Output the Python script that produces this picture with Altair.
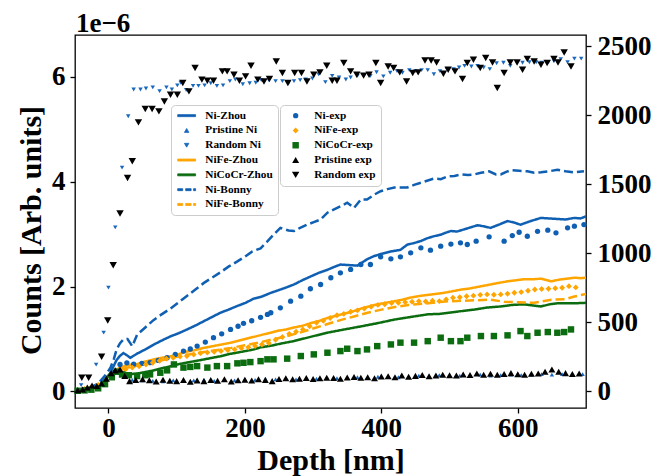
import altair as alt
import pandas as pd

FONT = "Liberation Serif"
BLUE = "#0f5fb2"
BLUE_TRI = "#1a68bd"
ORANGE = "#ffa500"
GREEN = "#0c6c10"
BLACK = "#000000"

# ---------------- simulation curves (left axis, units of 1e-6) ----------------
ni_zhou_x = [-47, -35, -25, -15, -5, 2, 7.5, 12, 17, 22,
             27, 32, 42, 54, 66, 78, 91, 103, 115, 128,
             140, 152, 164, 176, 189, 201, 213, 225, 238, 247,
             260, 272, 284, 296, 308, 321, 330, 340, 352, 365,
             379, 389, 399, 414, 428, 438, 448, 458, 467, 477,
             487, 497, 502, 511, 521, 531, 541, 550, 560, 572,
             585, 595, 604, 619, 634, 646, 658, 670, 683, 692, 700]
ni_zhou_y = [0.0, 0.02, 0.05, 0.1, 0.22, 0.33, 0.48, 0.6, 0.68, 0.73,
             0.69, 0.64, 0.72, 0.80, 0.89, 0.97, 1.05, 1.11, 1.18, 1.26,
             1.34, 1.42, 1.50, 1.56, 1.63, 1.69, 1.77, 1.81, 1.88, 1.92,
             1.98, 2.04, 2.12, 2.19, 2.26, 2.32, 2.37, 2.42, 2.41, 2.40,
             2.52, 2.58, 2.62, 2.67, 2.70, 2.80, 2.83, 2.87, 2.92, 2.96,
             2.99, 3.04, 3.06, 3.05, 3.09, 3.13, 3.17, 3.15, 3.12, 3.18,
             3.25, 3.22, 3.18, 3.25, 3.31, 3.30, 3.29, 3.28, 3.31, 3.30, 3.34]

ni_bonny_x = [-47, -35, -25, -15, -5, 3, 8, 12, 17, 22,
              28, 35, 42, 54, 66, 78, 91, 103, 115, 128,
              140, 152, 164, 176, 189, 201, 211, 223, 232, 242,
              252, 264, 272, 281, 291, 301, 311, 321, 330, 340,
              350, 360, 370, 379, 389, 399, 409, 419, 428, 438,
              448, 458, 467, 477, 487, 497, 507, 517, 527, 536,
              546, 558, 568, 575, 583, 590, 602, 614, 624, 634,
              646, 658, 670, 683, 697]
ni_bonny_y = [0.0, 0.03, 0.08, 0.15, 0.3, 0.45, 0.62, 0.80, 0.92, 0.99,
              1.00, 0.86, 1.08, 1.22, 1.36, 1.47, 1.58, 1.70, 1.82, 1.95,
              2.07, 2.17, 2.27, 2.38, 2.48, 2.58, 2.67, 2.73, 2.85, 2.99,
              3.12, 3.07, 3.06, 3.12, 3.18, 3.23, 3.28, 3.41, 3.47, 3.53,
              3.60, 3.50, 3.66, 3.66, 3.75, 3.82, 3.86, 3.89, 3.89, 3.89,
              3.94, 3.98, 4.02, 4.06, 4.05, 4.10, 4.11, 4.14, 4.13, 4.14,
              4.17, 4.20, 4.14, 4.14, 4.19, 4.22, 4.21, 4.20, 4.17, 4.18,
              4.20, 4.23, 4.20, 4.18, 4.20]

nife_zhou_x = [-47, -35, -25, -15, -7, 0, 7.5, 17, 25, 32,
               42, 54, 66, 78, 91, 103, 115, 128, 140, 152,
               164, 176, 189, 201, 213, 225, 238, 250, 260, 272,
               284, 296, 308, 321, 333, 345, 357, 370, 382, 394,
               406, 419, 431, 443, 456, 468, 480, 492, 504, 516,
               528, 536, 548, 560, 572, 585, 597, 609, 622, 634,
               649, 660, 672, 683, 692, 700]
nife_zhou_y = [0.0, 0.02, 0.05, 0.1, 0.19, 0.3, 0.38, 0.45, 0.49, 0.51,
               0.52, 0.57, 0.61, 0.64, 0.67, 0.71, 0.76, 0.79, 0.83, 0.86,
               0.89, 0.92, 0.96, 1.00, 1.04, 1.08, 1.12, 1.16, 1.18, 1.22,
               1.25, 1.30, 1.34, 1.40, 1.44, 1.48, 1.52, 1.58, 1.62, 1.66,
               1.69, 1.72, 1.75, 1.79, 1.82, 1.84, 1.86, 1.88, 1.91, 1.94,
               1.96, 1.98, 2.01, 2.04, 2.07, 2.10, 2.12, 2.14, 2.14, 2.15,
               2.10, 2.13, 2.15, 2.17, 2.16, 2.17]

nife_bonny_x = [-47, -30, -15, 0, 15, 30, 45, 60, 80, 100,
                120, 140, 160, 180, 200, 220, 240, 260, 280, 300,
                320, 340, 360, 380, 400, 420, 440, 460, 480, 500,
                520, 540, 560, 580, 600, 624, 649, 670, 683, 700]
nife_bonny_y = [0.0, 0.03, 0.08, 0.22, 0.40, 0.46, 0.50, 0.55, 0.60, 0.66,
                0.71, 0.75, 0.79, 0.83, 0.88, 0.93, 0.99, 1.05, 1.12, 1.20,
                1.28, 1.36, 1.43, 1.50, 1.56, 1.61, 1.65, 1.67, 1.70, 1.72,
                1.73, 1.74, 1.75, 1.71, 1.70, 1.69, 1.75, 1.76, 1.81, 1.86]

nicocr_zhou_x = [-47, -30, -15, -5, 3, 12, 22, 32, 42, 54,
                 66, 78, 91, 103, 115, 128, 140, 152, 164, 176,
                 189, 201, 213, 223, 238, 252, 272, 296, 321, 345,
                 370, 394, 419, 443, 468, 487, 516, 536, 555, 575,
                 592, 609, 622, 634, 646, 658, 683, 700]
nicocr_zhou_y = [0.0, 0.03, 0.1, 0.22, 0.35, 0.41, 0.36, 0.33, 0.34, 0.37,
                 0.40, 0.44, 0.48, 0.52, 0.55, 0.58, 0.61, 0.64, 0.67, 0.71,
                 0.74, 0.77, 0.80, 0.84, 0.87, 0.91, 0.96, 1.04, 1.12, 1.18,
                 1.24, 1.30, 1.37, 1.42, 1.47, 1.48, 1.53, 1.56, 1.60, 1.62,
                 1.65, 1.66, 1.64, 1.62, 1.66, 1.68, 1.68, 1.69]

pristine_ni_x = [-45, -35, -25, -15, -5, 5, 15, 25, 35,
                 50, 65, 80, 95, 110, 125, 140, 155, 170, 185,
                 200, 215, 230, 245, 260, 275, 290, 305, 320, 335,
                 350, 365, 380, 395, 410, 425, 440, 455, 470, 485,
                 500, 515, 530, 545, 560, 575, 590, 605, 620, 635,
                 650, 665, 680, 695]
pristine_ni_y = [0.0, 0.01, 0.03, 0.07, 0.15, 0.30, 0.36, 0.28, 0.22,
                 0.21, 0.20, 0.19, 0.21, 0.20, 0.21, 0.22, 0.20, 0.22, 0.21,
                 0.23, 0.22, 0.24, 0.23, 0.24, 0.23, 0.25, 0.24, 0.26, 0.25,
                 0.26, 0.27, 0.26, 0.28, 0.29, 0.27, 0.28, 0.30, 0.29, 0.31,
                 0.30, 0.30, 0.31, 0.32, 0.30, 0.31, 0.32, 0.31, 0.32, 0.33,
                 0.32, 0.33, 0.32, 0.33]

random_ni = [(-40, 0.12), (-29, 0.25), (-18, 0.51), (-7, 1.12), (0, 1.98), (10, 3.13),
             (20, 4.27), (29, 5.25), (37, 5.76), (47, 5.76), (55, 5.78), (65, 5.80),
             (75, 5.73), (85, 5.80), (93, 5.76), (101, 5.84), (106, 5.89), (114, 5.75),
             (124, 5.83), (132, 5.83), (141, 5.84), (150, 5.88), (159, 5.83), (168, 5.84),
             (178, 5.92), (186, 5.95), (197, 5.86), (207, 5.88), (216, 5.89), (224, 5.94),
             (235, 5.94), (245, 5.92), (255, 5.92), (264, 5.88), (272, 5.92), (281, 5.94),
             (289, 5.95), (299, 5.97), (308, 6.05), (318, 5.90), (328, 6.02), (338, 5.99),
             (348, 5.95), (355, 5.99), (365, 6.02), (374, 6.02), (384, 6.02), (393, 6.09),
             (403, 6.01), (413, 6.08), (423, 6.11), (431, 6.08), (441, 6.13), (450, 6.11),
             (459, 6.13), (468, 6.13), (477, 6.05), (486, 6.11), (496, 6.15), (506, 6.15),
             (514, 6.18), (522, 6.21), (532, 6.20), (541, 6.21), (550, 6.18), (559, 6.15),
             (569, 6.26), (579, 6.27), (589, 6.21), (599, 6.27), (607, 6.27), (617, 6.28),
             (627, 6.28), (635, 6.27), (645, 6.28), (653, 6.30), (663, 6.34), (673, 6.28),
             (683, 6.35), (693, 6.35)]

# ---------------- experimental data (right axis, counts) ----------------
ni_exp_x = [-45, -35, -25, -15, -5, 5, 17, 27, 37, 49,
            61, 73, 86, 98, 110, 120, 130, 142, 154, 166,
            179, 190, 198, 210, 223, 233, 238, 252, 267, 282,
            296, 311, 326, 340, 355, 370, 384, 399, 414, 428,
            443, 458, 472, 487, 502, 516, 526, 539, 558, 580,
            592, 602, 614, 629, 644, 656, 673, 683, 697]
ni_exp_c = [5, 10, 20, 35, 70, 130, 193, 205, 195, 200,
            206, 222, 242, 265, 290, 305, 326, 355, 387, 415,
            447, 470, 491, 510, 535, 556, 568, 604, 652, 688,
            742, 773, 822, 858, 882, 918, 918, 974, 959, 974,
            1003, 1039, 1022, 1051, 1066, 1075, 1063, 1087, 1119, 1087,
            1128, 1152, 1123, 1159, 1167, 1148, 1184, 1196, 1208]

nife_exp_x = list(range(-45, 690, 10))
nife_exp_c = [5, 15, 30, 45, 61, 121, 150, 157, 170, 180,
              193, 205, 220, 235, 242, 250, 254, 265, 275, 280,
              285, 290, 296, 302, 310, 318, 326, 338, 348, 372,
              392, 415, 430, 447, 470, 495, 510, 530, 550, 560,
              575, 585, 598, 612, 625, 630, 638, 641, 645, 648,
              652, 650, 655, 652, 665, 677, 680, 688, 692, 698,
              701, 699, 701, 706, 713, 718, 728, 737, 740, 742,
              746, 749, 761, 752]

nicocr_exp_x = [-45, -35, -25, -15, -5, 5, 12, 20, 30, 42,
                54, 61, 76, 86, 96, 110, 120, 130, 145, 159,
                174, 189, 198, 208, 223, 233, 242, 262, 282, 301,
                321, 340, 350, 365, 379, 394, 414, 428, 448, 468,
                487, 502, 516, 526, 546, 565, 585, 604, 614, 629,
                644, 658, 668, 678]
nicocr_exp_c = [2, 5, 10, 20, 50, 100, 140, 120, 115, 109,
                115, 121, 133, 150, 193, 170, 175, 181, 170, 181,
                181, 201, 205, 210, 217, 230, 230, 235, 254, 266,
                278, 290, 307, 290, 302, 326, 338, 351, 351, 362,
                387, 362, 362, 387, 399, 399, 404, 435, 399, 423,
                428, 423, 428, 447]

pristine_exp_x = [-45, -38, -31, -24, -17, -10, -3, 4, 10, 17, 24, 31] + list(range(40, 700, 10))
pristine_exp_c = [5, 12, 25, 40, 36, 55, 90, 130, 150, 157, 110, 72,
                  80, 85, 78, 70, 82, 75, 72, 80, 68, 76,
                  72, 80, 74, 85, 70, 78, 82, 77, 86, 80,
                  72, 88, 92, 86, 90, 95, 88, 93, 97, 95,
                  90, 98, 102, 96, 100, 92, 105, 108, 100, 112,
                  104, 110, 116, 108, 112, 118, 114, 112, 120, 116,
                  128, 118, 126, 118, 124, 130, 122, 118, 126, 128,
                  140, 157, 140, 130, 124, 128]

random_exp = [(-39, 97), (-29, 97), (-10, 249), (-1, 512), (7, 913), (17, 1288), (28, 1546),
              (35, 1667), (44, 1949), (54, 2046), (64, 2046), (74, 2029), (82, 2101), (91, 2150),
              (101, 2150), (109, 2235), (118, 2174), (127, 2343), (137, 2259), (145, 2251),
              (154, 2251), (167, 2319), (174, 2319), (184, 2295), (192, 2251), (201, 2283),
              (209, 2360), (219, 2259), (228, 2246), (236, 2264), (246, 2391), (255, 2307),
              (263, 2235), (273, 2307), (283, 2307), (291, 2246), (301, 2295), (310, 2312),
              (320, 2360), (328, 2251), (335, 2251), (345, 2380), (355, 2319), (364, 2295),
              (374, 2288), (382, 2295), (392, 2380), (399, 2235), (410, 2355), (418, 2343),
              (427, 2312), (437, 2246), (446, 2307), (454, 2312), (464, 2398), (473, 2398),
              (481, 2384), (491, 2302), (498, 2331), (508, 2319), (519, 2264), (526, 2380),
              (535, 2403), (545, 2343), (553, 2416), (563, 2384), (570, 2198), (580, 2307),
              (589, 2384), (599, 2384), (607, 2331), (614, 2409), (624, 2391), (634, 2367),
              (643, 2380), (653, 2409), (659, 2384), (668, 2456), (678, 2355)]


def frame(xs, vs, name, col):
    assert len(xs) == len(vs), name
    return pd.DataFrame({"x": xs, col: vs, "s": name})


line_df = pd.concat([
    frame(ni_zhou_x, ni_zhou_y, "Ni-Zhou", "y"),
    frame(nife_zhou_x, nife_zhou_y, "NiFe-Zhou", "y"),
    frame(nicocr_zhou_x, nicocr_zhou_y, "NiCoCr-Zhou", "y"),
    frame(ni_bonny_x, ni_bonny_y, "Ni-Bonny", "y"),
    frame(nife_bonny_x, nife_bonny_y, "NiFe-Bonny", "y"),
], ignore_index=True)

sim_pt_df = pd.concat([
    frame(pristine_ni_x, pristine_ni_y, "Pristine Ni", "y"),
    frame([p[0] for p in random_ni], [p[1] for p in random_ni], "Random Ni", "y"),
], ignore_index=True)

exp_df = pd.concat([
    frame(ni_exp_x, ni_exp_c, "Ni-exp", "c"),
    frame(nife_exp_x, nife_exp_c, "NiFe-exp", "c"),
    frame(nicocr_exp_x, nicocr_exp_c, "NiCoCr-exp", "c"),
    frame(pristine_exp_x, pristine_exp_c, "Pristine exp", "c"),
    frame([p[0] for p in random_exp], [p[1] for p in random_exp], "Random exp", "c"),
], ignore_index=True)

SIM_NAMES = ["Ni-Zhou", "Pristine Ni", "Random Ni", "NiFe-Zhou", "NiCoCr-Zhou", "Ni-Bonny", "NiFe-Bonny"]
SIM_COLORS = [BLUE, BLUE_TRI, BLUE_TRI, ORANGE, GREEN, BLUE, ORANGE]
SOLID = "M-4,-0.45H4V0.45H-4Z"
DASHED = "M-4,-0.45H-1.77V0.45H-4Z M-0.44,-0.45H2V0.45H-0.44Z M3.1,-0.45H4V0.45H3.1Z"
SIM_SHAPES = [SOLID, "triangle-up", "triangle-down", SOLID, SOLID, DASHED, DASHED]
SIM_DASH = [[1, 0], [1, 0], [1, 0], [1, 0], [1, 0], [9, 4], [9, 4]]
SIM_SIZES = [20, 20, 62, 20, 20, 20, 20]

EXP_NAMES = ["Ni-exp", "NiFe-exp", "NiCoCr-exp", "Pristine exp", "Random exp"]
EXP_COLORS = [BLUE, ORANGE, GREEN, BLACK, BLACK]
EXP_SHAPES = ["circle", "diamond", "square", "triangle-up", "triangle-down"]
EXP_SIZES = [28, 55, 30, 42, 64]


def legend(lx, sym):
    return alt.Legend(title=None, orient="none", legendX=lx, legendY=70, direction="vertical",
                      labelFont=FONT, labelFontSize=11.3, labelFontWeight="bold", labelColor="black",
                      symbolSize=sym, symbolStrokeWidth=0.8, symbolOffset=5, labelOffset=13,
                      rowPadding=2.8, padding=5, fillColor="white", strokeColor="#cccccc",
                      cornerRadius=4, symbolOpacity=1, labelLimit=200)


tick_style = dict(grid=False, domain=False, tickSize=5, tickWidth=1.3, tickColor="black",
                  labelFont=FONT, labelFontSize=27, labelFontWeight="bold", labelColor="black",
                  titleFont=FONT, titleFontSize=30, titleFontWeight="bold", titleColor="black",
                  format="d")

x_enc = alt.X("x:Q", scale=alt.Scale(domain=[-49, 700], nice=False, zero=False),
              axis=alt.Axis(values=[0, 200, 400, 600], title="Depth [nm]", labelPadding=2,
                            titleBaseline="alphabetic", titleY=61, **tick_style))

y_left = alt.Y("y:Q", scale=alt.Scale(domain=[-0.317, 6.80], nice=False, zero=False),
               axis=alt.Axis(values=[0, 2, 4, 6], title="Counts [Arb. units]", labelPadding=5,
                             titleBaseline="alphabetic", titleX=-35, titleY=195, **tick_style))

y_right = alt.Y("c:Q", scale=alt.Scale(domain=[-123, 2583], nice=False, zero=False),
                axis=alt.Axis(orient="right", values=[0, 500, 1000, 1500, 2000, 2500], title=None,
                              labelPadding=6, **tick_style))

sim_color = alt.Color("s:N", scale=alt.Scale(domain=SIM_NAMES, range=SIM_COLORS), legend=legend(96, 36))

sim_pts = alt.Chart(sim_pt_df).mark_point(filled=True, opacity=1).encode(
    x=x_enc, y=y_left, color=sim_color,
    shape=alt.Shape("s:N", scale=alt.Scale(domain=SIM_NAMES, range=SIM_SHAPES), legend=legend(96, 36)),
    size=alt.Size("s:N", scale=alt.Scale(domain=SIM_NAMES, range=SIM_SIZES), legend=None),
)

lines = alt.Chart(line_df).mark_line(strokeWidth=2.5).encode(
    x=x_enc, y=y_left, color=sim_color,
    strokeDash=alt.StrokeDash("s:N", scale=alt.Scale(domain=SIM_NAMES, range=SIM_DASH), legend=None),
)

offset_text = alt.Chart(pd.DataFrame({"t": ["1e\u22126"]})).mark_text(
    align="left", baseline="alphabetic", font=FONT, fontSize=27, fontWeight="bold", color="black"
).encode(text="t:N", x=alt.value(1), y=alt.value(-3))

sim_layer = alt.layer(sim_pts, lines, offset_text)

exp_layer = alt.Chart(exp_df).mark_point(filled=True, opacity=1).encode(
    x=x_enc, y=y_right,
    color=alt.Color("s:N", scale=alt.Scale(domain=EXP_NAMES, range=EXP_COLORS), legend=legend(205, 30)),
    shape=alt.Shape("s:N", scale=alt.Scale(domain=EXP_NAMES, range=EXP_SHAPES), legend=legend(205, 30)),
    size=alt.Size("s:N", scale=alt.Scale(domain=EXP_NAMES, range=EXP_SIZES), legend=None),
)

chart = alt.layer(sim_layer, exp_layer).resolve_scale(
    y="independent", color="independent", shape="independent", size="independent"
).properties(
    width=511, height=373,
    padding={"left": 75, "top": 35, "right": 73, "bottom": 68},
    autosize=alt.AutoSizeParams(type="none"),
    background="white",
).configure_view(stroke="black", strokeWidth=1.3)

chart.save("out.html", embed_options={"renderer": "svg", "actions": False})
